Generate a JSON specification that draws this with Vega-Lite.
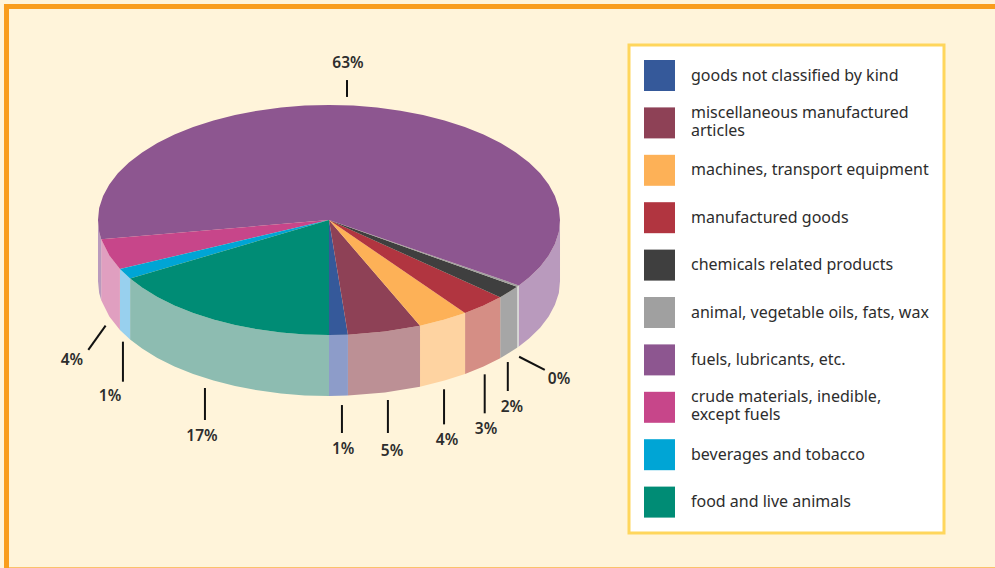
{"$schema":"https://vega.github.io/schema/vega-lite/v6.json","width":995,"height":568,"padding":0,"autosize":{"type":"none"},"background":"#fff4da","config":{"view":{"stroke":null}},
"datasets":{
"slices":[{"k":"goods","name":"goods not classified by kind","pct":"1%"},{"k":"misc","name":"miscellaneous manufactured articles","pct":"5%"},{"k":"mach","name":"machines, transport equipment","pct":"4%"},{"k":"manu","name":"manufactured goods","pct":"3%"},{"k":"chem","name":"chemicals related products","pct":"2%"},{"k":"oils","name":"animal, vegetable oils, fats, wax","pct":"0%"},{"k":"fuel","name":"fuels, lubricants, etc.","pct":"63%"},{"k":"crud","name":"crude materials, inedible, except fuels","pct":"4%"},{"k":"bev","name":"beverages and tobacco","pct":"1%"},{"k":"food","name":"food and live animals","pct":"17%"}],
"frame":[{"u":-1.407,"v":-1.857,"u2":2.883,"v2":-1.857,"w":"top"},{"u":-1.396,"v":-1.878,"u2":-1.396,"v2":3.026,"w":"left"}],
"base":[{"u":-1.407,"v":3.022,"u2":2.883,"v2":3.022}],
"leaders":[{"k":"fuel","pct":"63%","u":0.078,"v":-1.217,"u2":0.078,"v2":-1.07,"lu":0.082,"lv":-1.365},{"k":"oils","pct":"0%","u":0.823,"v":1.189,"u2":0.934,"v2":1.304,"lu":0.996,"lv":1.383},{"k":"chem","pct":"2%","u":0.774,"v":1.235,"u2":0.774,"v2":1.487,"lu":0.792,"lv":1.626},{"k":"manu","pct":"3%","u":0.674,"v":1.342,"u2":0.674,"v2":1.681,"lu":0.68,"lv":1.817},{"k":"mach","pct":"4%","u":0.498,"v":1.472,"u2":0.498,"v2":1.777,"lu":0.511,"lv":1.913},{"k":"misc","pct":"5%","u":0.255,"v":1.565,"u2":0.255,"v2":1.852,"lu":0.273,"lv":2.009},{"k":"goods","pct":"1%","u":0.056,"v":1.609,"u2":0.056,"v2":1.852,"lu":0.061,"lv":1.991},{"k":"food","pct":"17%","u":-0.537,"v":1.461,"u2":-0.537,"v2":1.739,"lu":-0.55,"lv":1.878},{"k":"bev","pct":"1%","u":-0.892,"v":1.058,"u2":-0.892,"v2":1.406,"lu":-0.948,"lv":1.53},{"k":"crud","pct":"4%","u":-0.967,"v":0.919,"u2":-1.042,"v2":1.13,"lu":-1.113,"lv":1.217}],
"walls":[
{"p":"fr","k":"fuel","i":0,"u":0.822,"v":0.569},{"p":"fr","k":"fuel","i":1,"u":0.866,"v":0.5},{"p":"fr","k":"fuel","i":2,"u":0.914,"v":0.407},{"p":"fr","k":"fuel","i":3,"u":0.951,"v":0.309},{"p":"fr","k":"fuel","i":4,"u":0.978,"v":0.208},{"p":"fr","k":"fuel","i":5,"u":0.995,"v":0.105},{"p":"fr","k":"fuel","i":6,"u":1,"v":0},{"p":"fr","k":"fuel","i":7,"u":1,"v":0.53},{"p":"fr","k":"fuel","i":8,"u":0.995,"v":0.635},{"p":"fr","k":"fuel","i":9,"u":0.978,"v":0.738},{"p":"fr","k":"fuel","i":10,"u":0.951,"v":0.839},{"p":"fr","k":"fuel","i":11,"u":0.914,"v":0.937},{"p":"fr","k":"fuel","i":12,"u":0.866,"v":1.03},{"p":"fr","k":"fuel","i":13,"u":0.822,"v":1.099},
{"p":"oils","k":"oils","i":0,"u":0.814,"v":0.581},{"p":"oils","k":"oils","i":1,"u":0.822,"v":0.569},{"p":"oils","k":"oils","i":2,"u":0.822,"v":1.099},{"p":"oils","k":"oils","i":3,"u":0.814,"v":1.111},
{"p":"chem","k":"chem","i":0,"u":0.741,"v":0.672},{"p":"chem","k":"chem","i":1,"u":0.814,"v":0.581},{"p":"chem","k":"chem","i":2,"u":0.814,"v":1.111},{"p":"chem","k":"chem","i":3,"u":0.741,"v":1.202},
{"p":"manu","k":"manu","i":0,"u":0.589,"v":0.808},{"p":"manu","k":"manu","i":1,"u":0.669,"v":0.743},{"p":"manu","k":"manu","i":2,"u":0.741,"v":0.672},{"p":"manu","k":"manu","i":3,"u":0.741,"v":1.202},{"p":"manu","k":"manu","i":4,"u":0.669,"v":1.273},{"p":"manu","k":"manu","i":5,"u":0.589,"v":1.338},
{"p":"mach","k":"mach","i":0,"u":0.394,"v":0.919},{"p":"mach","k":"mach","i":1,"u":0.5,"v":0.866},{"p":"mach","k":"mach","i":2,"u":0.589,"v":0.808},{"p":"mach","k":"mach","i":3,"u":0.589,"v":1.338},{"p":"mach","k":"mach","i":4,"u":0.5,"v":1.396},{"p":"mach","k":"mach","i":5,"u":0.394,"v":1.449},
{"p":"misc","k":"misc","i":0,"u":0.082,"v":0.997},{"p":"misc","k":"misc","i":1,"u":0.242,"v":0.97},{"p":"misc","k":"misc","i":2,"u":0.394,"v":0.919},{"p":"misc","k":"misc","i":3,"u":0.394,"v":1.449},{"p":"misc","k":"misc","i":4,"u":0.242,"v":1.5},{"p":"misc","k":"misc","i":5,"u":0.082,"v":1.527},
{"p":"goods","k":"goods","i":0,"u":0,"v":1},{"p":"goods","k":"goods","i":1,"u":0.082,"v":0.997},{"p":"goods","k":"goods","i":2,"u":0.082,"v":1.527},{"p":"goods","k":"goods","i":3,"u":0,"v":1.53},
{"p":"food","k":"food","i":0,"u":-0.861,"v":0.509},{"p":"food","k":"food","i":1,"u":-0.809,"v":0.588},{"p":"food","k":"food","i":2,"u":-0.743,"v":0.669},{"p":"food","k":"food","i":3,"u":-0.669,"v":0.743},{"p":"food","k":"food","i":4,"u":-0.588,"v":0.809},{"p":"food","k":"food","i":5,"u":-0.5,"v":0.866},{"p":"food","k":"food","i":6,"u":-0.407,"v":0.914},{"p":"food","k":"food","i":7,"u":-0.309,"v":0.951},{"p":"food","k":"food","i":8,"u":-0.208,"v":0.978},{"p":"food","k":"food","i":9,"u":-0.105,"v":0.995},{"p":"food","k":"food","i":10,"u":0,"v":1},{"p":"food","k":"food","i":11,"u":0,"v":1.53},{"p":"food","k":"food","i":12,"u":-0.105,"v":1.525},{"p":"food","k":"food","i":13,"u":-0.208,"v":1.508},{"p":"food","k":"food","i":14,"u":-0.309,"v":1.481},{"p":"food","k":"food","i":15,"u":-0.407,"v":1.444},{"p":"food","k":"food","i":16,"u":-0.5,"v":1.396},{"p":"food","k":"food","i":17,"u":-0.588,"v":1.339},{"p":"food","k":"food","i":18,"u":-0.669,"v":1.273},{"p":"food","k":"food","i":19,"u":-0.743,"v":1.199},{"p":"food","k":"food","i":20,"u":-0.809,"v":1.118},{"p":"food","k":"food","i":21,"u":-0.861,"v":1.039},
{"p":"bev","k":"bev","i":0,"u":-0.905,"v":0.426},{"p":"bev","k":"bev","i":1,"u":-0.861,"v":0.509},{"p":"bev","k":"bev","i":2,"u":-0.861,"v":1.039},{"p":"bev","k":"bev","i":3,"u":-0.905,"v":0.956},
{"p":"crud","k":"crud","i":0,"u":-0.986,"v":0.168},{"p":"crud","k":"crud","i":1,"u":-0.951,"v":0.309},{"p":"crud","k":"crud","i":2,"u":-0.905,"v":0.426},{"p":"crud","k":"crud","i":3,"u":-0.905,"v":0.956},{"p":"crud","k":"crud","i":4,"u":-0.951,"v":0.839},{"p":"crud","k":"crud","i":5,"u":-0.986,"v":0.698},
{"p":"fl","k":"fuel","i":0,"u":-1,"v":0},{"p":"fl","k":"fuel","i":1,"u":-0.995,"v":0.105},{"p":"fl","k":"fuel","i":2,"u":-0.986,"v":0.168},{"p":"fl","k":"fuel","i":3,"u":-0.986,"v":0.698},{"p":"fl","k":"fuel","i":4,"u":-0.995,"v":0.635},{"p":"fl","k":"fuel","i":5,"u":-1,"v":0.53}
],
"tops":[
{"k":"goods","i":0,"u":0,"v":0},{"k":"goods","i":1,"u":0,"v":1},{"k":"goods","i":2,"u":0.082,"v":0.997},
{"k":"misc","i":0,"u":0,"v":0},{"k":"misc","i":1,"u":0.082,"v":0.997},{"k":"misc","i":2,"u":0.242,"v":0.97},{"k":"misc","i":3,"u":0.394,"v":0.919},
{"k":"mach","i":0,"u":0,"v":0},{"k":"mach","i":1,"u":0.394,"v":0.919},{"k":"mach","i":2,"u":0.5,"v":0.866},{"k":"mach","i":3,"u":0.589,"v":0.808},
{"k":"manu","i":0,"u":0,"v":0},{"k":"manu","i":1,"u":0.589,"v":0.808},{"k":"manu","i":2,"u":0.669,"v":0.743},{"k":"manu","i":3,"u":0.741,"v":0.672},
{"k":"chem","i":0,"u":0,"v":0},{"k":"chem","i":1,"u":0.741,"v":0.672},{"k":"chem","i":2,"u":0.814,"v":0.581},
{"k":"oils","i":0,"u":0,"v":0},{"k":"oils","i":1,"u":0.814,"v":0.581},{"k":"oils","i":2,"u":0.822,"v":0.569},
{"k":"fuel","i":0,"u":0,"v":0},{"k":"fuel","i":1,"u":0.822,"v":0.569},{"k":"fuel","i":2,"u":0.866,"v":0.5},{"k":"fuel","i":3,"u":0.914,"v":0.407},{"k":"fuel","i":4,"u":0.951,"v":0.309},{"k":"fuel","i":5,"u":0.978,"v":0.208},{"k":"fuel","i":6,"u":0.995,"v":0.105},{"k":"fuel","i":7,"u":1,"v":0},{"k":"fuel","i":8,"u":0.995,"v":-0.105},{"k":"fuel","i":9,"u":0.978,"v":-0.208},{"k":"fuel","i":10,"u":0.951,"v":-0.309},{"k":"fuel","i":11,"u":0.914,"v":-0.407},{"k":"fuel","i":12,"u":0.866,"v":-0.5},{"k":"fuel","i":13,"u":0.809,"v":-0.588},{"k":"fuel","i":14,"u":0.743,"v":-0.669},{"k":"fuel","i":15,"u":0.669,"v":-0.743},{"k":"fuel","i":16,"u":0.588,"v":-0.809},{"k":"fuel","i":17,"u":0.5,"v":-0.866},{"k":"fuel","i":18,"u":0.407,"v":-0.914},{"k":"fuel","i":19,"u":0.309,"v":-0.951},{"k":"fuel","i":20,"u":0.208,"v":-0.978},{"k":"fuel","i":21,"u":0.105,"v":-0.995},{"k":"fuel","i":22,"u":0,"v":-1},{"k":"fuel","i":23,"u":-0.105,"v":-0.995},{"k":"fuel","i":24,"u":-0.208,"v":-0.978},{"k":"fuel","i":25,"u":-0.309,"v":-0.951},{"k":"fuel","i":26,"u":-0.407,"v":-0.914},{"k":"fuel","i":27,"u":-0.5,"v":-0.866},{"k":"fuel","i":28,"u":-0.588,"v":-0.809},{"k":"fuel","i":29,"u":-0.669,"v":-0.743},{"k":"fuel","i":30,"u":-0.743,"v":-0.669},{"k":"fuel","i":31,"u":-0.809,"v":-0.588},{"k":"fuel","i":32,"u":-0.866,"v":-0.5},{"k":"fuel","i":33,"u":-0.914,"v":-0.407},{"k":"fuel","i":34,"u":-0.951,"v":-0.309},{"k":"fuel","i":35,"u":-0.978,"v":-0.208},{"k":"fuel","i":36,"u":-0.995,"v":-0.105},{"k":"fuel","i":37,"u":-1,"v":0},{"k":"fuel","i":38,"u":-0.995,"v":0.105},{"k":"fuel","i":39,"u":-0.986,"v":0.168},
{"k":"crud","i":0,"u":0,"v":0},{"k":"crud","i":1,"u":-0.986,"v":0.168},{"k":"crud","i":2,"u":-0.951,"v":0.309},{"k":"crud","i":3,"u":-0.905,"v":0.426},
{"k":"bev","i":0,"u":0,"v":0},{"k":"bev","i":1,"u":-0.905,"v":0.426},{"k":"bev","i":2,"u":-0.861,"v":0.509},
{"k":"food","i":0,"u":0,"v":0},{"k":"food","i":1,"u":-0.861,"v":0.509},{"k":"food","i":2,"u":-0.809,"v":0.588},{"k":"food","i":3,"u":-0.743,"v":0.669},{"k":"food","i":4,"u":-0.669,"v":0.743},{"k":"food","i":5,"u":-0.588,"v":0.809},{"k":"food","i":6,"u":-0.5,"v":0.866},{"k":"food","i":7,"u":-0.407,"v":0.914},{"k":"food","i":8,"u":-0.309,"v":0.951},{"k":"food","i":9,"u":-0.208,"v":0.978},{"k":"food","i":10,"u":-0.105,"v":0.995},{"k":"food","i":11,"u":0,"v":1}
]},
"layer":[
{"data":{"name":"base"},"mark":{"type":"rule","stroke":"#f99d1c","strokeWidth":1,"opacity":0.6},"encoding":{"x":{"field":"u","type":"quantitative","scale":{"domain":[-1.4242,2.883]},"axis":null},"y":{"field":"v","type":"quantitative","scale":{"domain":[3.026,-1.913]},"axis":null},"x2":{"field":"u2"},"y2":{"field":"v2"}}},
{"data":{"name":"frame"},"mark":{"type":"rule","stroke":"#f99d1c","strokeWidth":5},"encoding":{"x":{"field":"u","type":"quantitative","scale":{"domain":[-1.4242,2.883]},"axis":null},"y":{"field":"v","type":"quantitative","scale":{"domain":[3.026,-1.913]},"axis":null},"x2":{"field":"u2"},"y2":{"field":"v2"}}},
{"data":{"name":"walls"},"transform":[{"lookup":"k","from":{"data":{"name":"slices"},"key":"k","fields":["name"]}}],"mark":{"type":"line","filled":true,"strokeWidth":0},"encoding":{"x":{"field":"u","type":"quantitative","scale":{"domain":[-1.4242,2.883]},"axis":null},"y":{"field":"v","type":"quantitative","scale":{"domain":[3.026,-1.913]},"axis":null},"order":{"field":"i","type":"quantitative"},"detail":{"field":"p"},"fill":{"field":"name","type":"nominal","legend":null,"scale":{"domain":["goods not classified by kind","miscellaneous manufactured articles","machines, transport equipment","manufactured goods","chemicals related products","animal, vegetable oils, fats, wax","fuels, lubricants, etc.","crude materials, inedible, except fuels","beverages and tobacco","food and live animals"],"range":["#8d9cc9","#bc9095","#fed3a1","#d58e85","#a6a6a6","#d5d5d5","#b99abd","#e09fc0","#98d0ee","#8dbcb1"]}}}},
{"data":{"name":"tops"},"transform":[{"lookup":"k","from":{"data":{"name":"slices"},"key":"k","fields":["name"]}}],"mark":{"type":"line","filled":true,"strokeWidth":0},"encoding":{"x":{"field":"u","type":"quantitative","scale":{"domain":[-1.4242,2.883]},"axis":null},"y":{"field":"v","type":"quantitative","scale":{"domain":[3.026,-1.913]},"axis":null},"order":{"field":"i","type":"quantitative"},"detail":{"field":"k"},"fill":{"field":"name","type":"nominal","title":null,"scale":{"domain":["goods not classified by kind","miscellaneous manufactured articles","machines, transport equipment","manufactured goods","chemicals related products","animal, vegetable oils, fats, wax","fuels, lubricants, etc.","crude materials, inedible, except fuels","beverages and tobacco","food and live animals"],"range":["#35599a","#8e4156","#fdb157","#b13540","#3f3f3f","#a0a0a0","#8d5690","#c7468a","#00a5d5","#008c75"]},"legend":{"orient":"none","legendX":629,"legendY":45,"padding":15,"fillColor":"#ffffff","strokeColor":"#ffd65c","symbolType":"square","symbolSize":961,"symbolStrokeWidth":0,"labelFont":"Noto Sans","labelFontSize":16,"labelColor":"#2d2d2d","labelOffset":16,"labelLimit":300,"rowPadding":12.4,"gridAlign":"all","labelExpr":"datum.label=='miscellaneous manufactured articles'?['miscellaneous manufactured','articles']:datum.label=='crude materials, inedible, except fuels'?['crude materials, inedible,','except fuels']:datum.label","encode":{"legend":{"update":{"strokeWidth":{"value":3}}},"labels":{"update":{"lineHeight":{"value":18},"dy":{"signal":"datum.label=='miscellaneous manufactured articles'||datum.label=='crude materials, inedible, except fuels'?-10:0"}}}}}}}},
{"data":{"name":"leaders"},"mark":{"type":"rule","stroke":"#111111","strokeWidth":2},"encoding":{"x":{"field":"u","type":"quantitative","scale":{"domain":[-1.4242,2.883]},"axis":null},"y":{"field":"v","type":"quantitative","scale":{"domain":[3.026,-1.913]},"axis":null},"x2":{"field":"u2"},"y2":{"field":"v2"}}},
{"data":{"name":"leaders"},"mark":{"type":"text","font":"Noto Sans","fontSize":15.5,"fontWeight":600,"color":"#2d2d2d","align":"center","baseline":"middle"},"encoding":{"x":{"field":"lu","type":"quantitative","scale":{"domain":[-1.4242,2.883]},"axis":null},"y":{"field":"lv","type":"quantitative","scale":{"domain":[3.026,-1.913]},"axis":null},"text":{"field":"pct"}}}
],
"resolve":{"scale":{"fill":"independent"}}}
